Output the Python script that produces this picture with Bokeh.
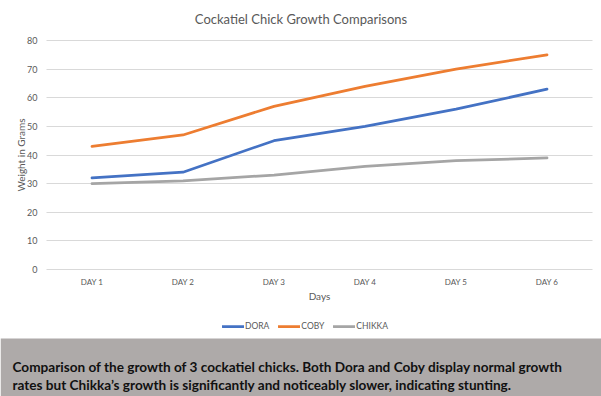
from bokeh.plotting import figure
from bokeh.models import (Range1d, Label, Legend, LegendItem, FixedTicker, BoxAnnotation, Grid)
from bokeh.embed import file_html
from bokeh.resources import INLINE

days = ["DAY 1", "DAY 2", "DAY 3", "DAY 4", "DAY 5", "DAY 6"]
dora = [32, 34, 45, 50, 56, 63]
coby = [43, 47, 57, 64, 70, 75]
chikka = [30, 31, 33, 36, 38, 39]
y_ticks = [0, 10, 20, 30, 40, 50, 60, 70, 80]
series_names = ["DORA", "COBY", "CHIKKA"]
series_colors = ["#4472C4", "#ED7D31", "#A5A5A5"]
title_text = "Cockatiel Chick Growth Comparisons"
caption_lines = [
    "Comparison of the growth of 3 cockatiel chicks. Both Dora and Coby display normal growth",
    "rates but Chikka\u2019s growth is significantly and noticeably slower, indicating stunting.",
]

FONT = "Lato"
GREY_TXT = "#595959"
W, H = 601, 396

# layout geometry (pixels): plot area 46..592 horizontally, y=80 at 40px and y=0 at 269px
PLOT_L, PLOT_R, PLOT_TOP, PLOT_BOT = 46, 592, 40, 269
n = len(days)
ppx = (PLOT_R - PLOT_L) / n
x_start = 0.5 - PLOT_L / ppx
x_end = x_start + W / ppx
ymax = y_ticks[-1]
ppy = (PLOT_BOT - PLOT_TOP) / ymax
y_end = ymax + PLOT_TOP / ppy
y_start = -(H - PLOT_BOT) / ppy

xs = list(range(1, n + 1))

p = figure(width=W, height=H, x_range=Range1d(x_start, x_end), y_range=Range1d(y_start, y_end),
           output_backend="svg", toolbar_location=None,
           min_border=0, min_border_left=0, min_border_right=0, min_border_top=0, min_border_bottom=0)
p.outline_line_color = None
p.background_fill_color = "white"
p.border_fill_color = "white"

# caption band
p.add_layout(BoxAnnotation(top=-(338 - PLOT_BOT) / ppy, fill_color="#AEAAA9", fill_alpha=1,
                           line_color=None, level="underlay"))

renderers = []
for vals, c in zip([dora, coby, chikka], series_colors):
    r = p.line(xs, vals, line_color=c, line_width=2.75, line_cap="round", line_join="round")
    renderers.append(r)

# y axis
yax = p.yaxis[0]
yax.fixed_location = 0.5
yax.bounds = (y_ticks[0], y_ticks[-1])
yax.ticker = FixedTicker(ticks=y_ticks)
yax.axis_line_color = None
yax.major_tick_line_color = None
yax.minor_tick_line_color = None
yax.major_tick_out = 0
yax.major_tick_in = 0
yax.major_label_standoff = 9
yax.major_label_text_font = FONT
yax.major_label_text_font_size = "9px"
yax.major_label_text_color = GREY_TXT
yax.axis_label = "Weight in Grams"
yax.axis_label_text_font = FONT
yax.axis_label_text_font_style = "normal"
yax.axis_label_text_font_size = "10px"
yax.axis_label_text_color = GREY_TXT
yax.axis_label_standoff = -3

# x axis
xax = p.xaxis[0]
xax.fixed_location = 0
xax.bounds = (0.5, n + 0.5)
xax.ticker = FixedTicker(ticks=xs)
xax.major_label_overrides = {i: d for i, d in zip(xs, days)}
xax.axis_line_color = None
xax.major_tick_line_color = None
xax.minor_tick_line_color = None
xax.major_tick_out = 0
xax.major_tick_in = 0
xax.major_label_standoff = 7
xax.major_label_text_font = FONT
xax.major_label_text_font_size = "8px"
xax.major_label_text_color = GREY_TXT
xax.axis_label = "Days"
xax.axis_label_text_font = FONT
xax.axis_label_text_font_style = "normal"
xax.axis_label_text_font_size = "10px"
xax.axis_label_text_color = GREY_TXT
xax.axis_label_standoff = 0

p.xgrid.grid_line_color = None
ygrid = p.ygrid[0]
ygrid.grid_line_color = "#D9D9D9"
ygrid.grid_line_width = 1
if "cross_bounds" in Grid.properties():
    ygrid.cross_bounds = (0.5, n + 0.5)
else:
    ygrid.grid_line_color = None
    p.segment(x0=[0.5] * len(y_ticks), x1=[n + 0.5] * len(y_ticks), y0=y_ticks, y1=y_ticks,
              line_color="#D9D9D9", line_width=1, level="underlay")

# legend (screen offsets from frame bottom-left, which is the canvas bottom-left)
legend = Legend(items=[LegendItem(label=nm, renderers=[r]) for nm, r in zip(series_names, renderers)],
                orientation="horizontal", location=(222, H - 331),
                label_text_font=FONT, label_text_font_size="8.5px", label_text_color=GREY_TXT,
                glyph_width=22, glyph_height=10, label_height=10, label_standoff=1, spacing=9,
                border_line_color=None, background_fill_alpha=0, margin=0, padding=2)
p.add_layout(legend, "center")

# title
p.add_layout(Label(x=W / 2, y=H - 18, x_units="screen", y_units="screen", text=title_text,
                   text_font=FONT, text_font_size="13px", text_color=GREY_TXT,
                   text_align="center", text_baseline="middle"))

# caption text
for i, line in enumerate(caption_lines):
    p.add_layout(Label(x=12, y=H - (366 + 18 * i), x_units="screen", y_units="screen", text=line,
                       text_font=FONT, text_font_style="bold", text_font_size="13.6px",
                       text_color="#111111", text_align="left", text_baseline="alphabetic"))

open("out.html", "w").write(file_html(p, INLINE))
